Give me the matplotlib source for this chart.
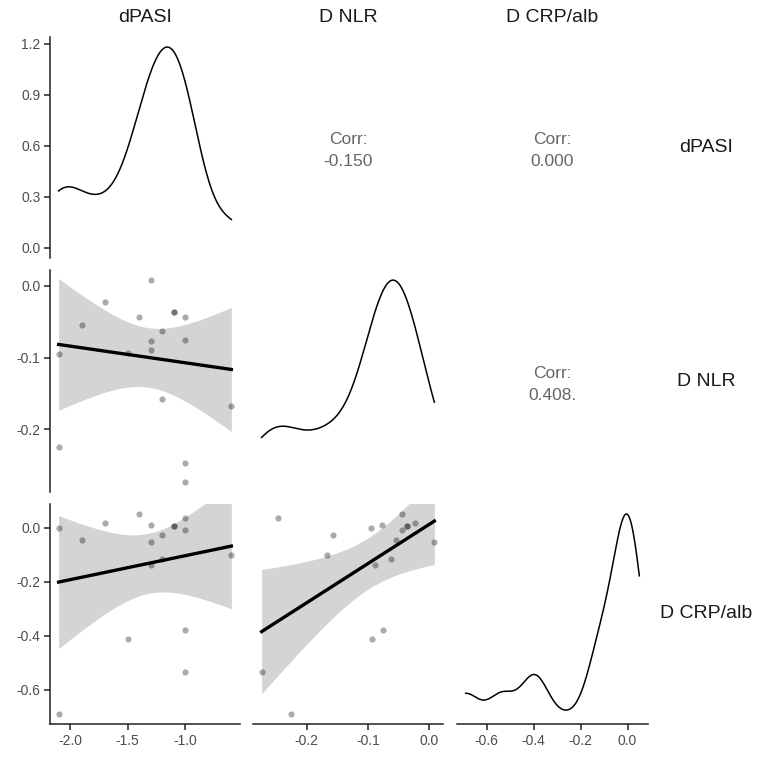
import numpy as np
import matplotlib
matplotlib.use("Agg")
import matplotlib.pyplot as plt

plt.rcParams['font.family'] = ['Liberation Sans', 'DejaVu Sans']

# ---- data ----
dpasi = [-2.1, -2.1, -1.9, -1.7, -1.5, -1.4, -1.3, -1.3, -1.3, -1.2, -1.2,
         -1.1, -1.1, -1.0, -1.0, -1.0, -1.0, -0.6]
d_nlr = [-0.095, -0.225, -0.054, -0.023, -0.094, -0.044, 0.008, -0.077, -0.089,
         -0.063, -0.157, -0.037, -0.037, -0.044, -0.076, -0.247, -0.273, -0.167]
d_crp = [0.000, -0.690, -0.047, 0.015, -0.413, 0.050, -0.053, 0.011, -0.139,
         -0.116, -0.027, 0.006, 0.006, -0.010, -0.380, 0.034, -0.536, -0.102]

var_names = ["dPASI", "D NLR", "D CRP/alb"]
corr_labels = {(0, 1): "-0.150", (0, 2): "0.000", (1, 2): "0.408."}
x_ticks = [[-2.0, -1.5, -1.0], [-0.2, -0.1, 0.0], [-0.6, -0.4, -0.2, 0.0]]
y_ticks = [[0.0, 0.3, 0.6, 0.9, 1.2], [0.0, -0.1, -0.2], [0.0, -0.2, -0.4, -0.6]]

data = [np.array(dpasi), np.array(d_nlr), np.array(d_crp)]

W, H = 760, 759
fig = plt.figure(figsize=(W / 100, H / 100), dpi=100)

col_px = [(50, 240), (253, 443), (457, 648)]
row_px = [(37, 258), (270, 492), (504, 724)]

TICK_C = '#4D4D4D'
AX_C = '#222222'


def rng(v):
    lo, hi = v.min(), v.max()
    e = (hi - lo) * 0.05
    return lo - e, hi + e


def kde(v):
    n = len(v)
    sd = v.std(ddof=1)
    q75, q25 = np.percentile(v, [75, 25])
    lo = min(sd, (q75 - q25) / 1.34)
    bw = 0.9 * lo * n ** (-0.2)
    xs = np.linspace(v.min(), v.max(), 512)
    ys = np.exp(-0.5 * ((xs[:, None] - v[None, :]) / bw) ** 2).sum(1) / (n * bw * np.sqrt(2 * np.pi))
    return xs, ys


def smooth(x, y):
    n = len(x)
    xb = x.mean()
    sxx = ((x - xb) ** 2).sum()
    b = ((x - xb) * (y - y.mean())).sum() / sxx
    a = y.mean() - b * xb
    res = y - (a + b * x)
    s = np.sqrt((res ** 2).sum() / (n - 2))
    xs = np.linspace(x.min(), x.max(), 80)
    fit = a + b * xs
    se = s * np.sqrt(1 / n + (xs - xb) ** 2 / sxx)
    t = 2.1199  # t(0.975, df=16)
    return xs, fit, fit - t * se, fit + t * se


for i in range(3):
    for j in range(3):
        x0, x1 = col_px[j]
        y0, y1 = row_px[i]
        ax = fig.add_axes([x0 / W, 1 - y1 / H, (x1 - x0) / W, (y1 - y0) / H])
        for sp in ax.spines.values():
            sp.set_visible(False)
        ax.set_facecolor('none')
        ax.tick_params(colors=AX_C, labelcolor=TICK_C, labelsize=10, length=4, width=1.1,
                       direction='out', pad=3)
        ax.set_xlim(*rng(data[j]))
        if i == j:
            xs, ys = kde(data[i])
            ax.plot(xs, ys, color='black', lw=1.1)
            m = ys.max()
            ax.set_ylim(-0.05 * m, 1.05 * m)
        elif i > j:
            xs, fit, lo, hi = smooth(data[j], data[i])
            ax.fill_between(xs, lo, hi, color='#D4D4D4', lw=0, zorder=1)
            ax.scatter(data[j], data[i], s=20, color='black', alpha=0.33, lw=0, zorder=2)
            ax.plot(xs, fit, color='black', lw=2.4, zorder=3)
            ax.set_ylim(*rng(data[i]))
        else:
            ax.set_ylim(0, 1)
            ax.text(0.5, 0.5, "Corr:", ha='center', va='bottom', fontsize=12.5,
                    color='#666666', transform=ax.transAxes)
            ax.text(0.5, 0.47, corr_labels[(i, j)], ha='center', va='top', fontsize=12.5,
                    color='#666666', transform=ax.transAxes)
        # axes
        if j == 0:
            ax.spines['left'].set_visible(True)
            ax.spines['left'].set_color(AX_C)
            ax.spines['left'].set_linewidth(1.1)
            ax.set_yticks(y_ticks[i])
            ax.set_yticklabels([f"{v:.1f}" for v in y_ticks[i]])
        else:
            ax.set_yticks([])
        if i == 2:
            ax.spines['bottom'].set_visible(True)
            ax.spines['bottom'].set_color(AX_C)
            ax.spines['bottom'].set_linewidth(1.1)
            ax.set_xticks(x_ticks[j])
            ax.set_xticklabels([f"{v:.1f}" for v in x_ticks[j]])
        else:
            ax.set_xticks([])

# strip labels
for j in range(3):
    cx = (col_px[j][0] + col_px[j][1]) / 2
    fig.text(cx / W, 1 - 18 / H, var_names[j], ha='center', va='center',
             fontsize=14, color='#1A1A1A')
for i in range(3):
    cy = (row_px[i][0] + row_px[i][1]) / 2
    fig.text(706 / W, 1 - cy / H, var_names[i], ha='center', va='center',
             fontsize=14, color='#1A1A1A')

fig.savefig("out.png", dpi=100)
